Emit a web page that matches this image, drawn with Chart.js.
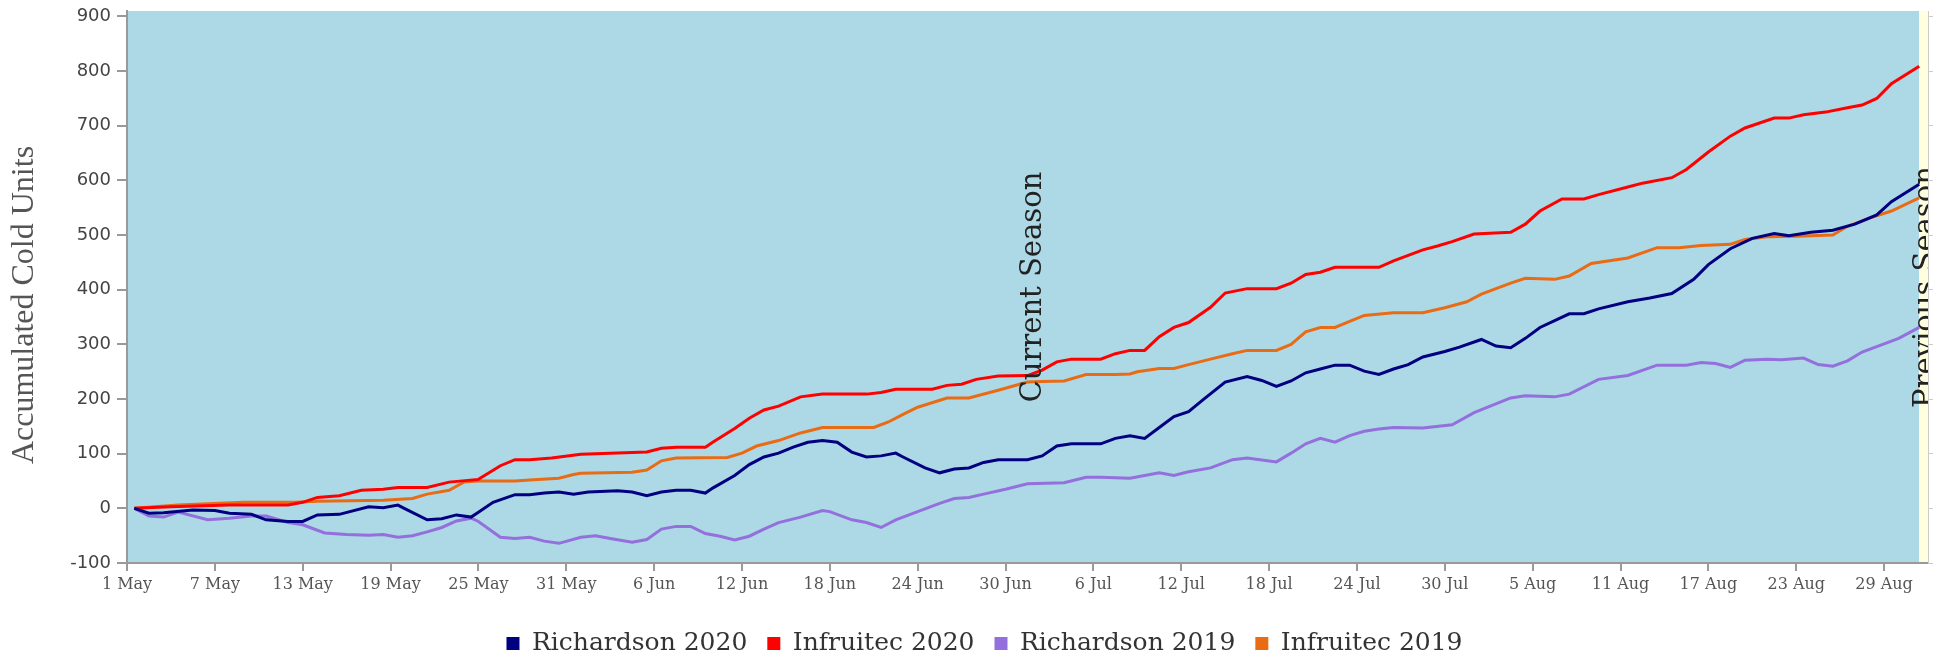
<!DOCTYPE html>
<html>
<head>
<meta charset="utf-8">
<title>Accumulated Cold Units</title>
<script src="https://cdn.jsdelivr.net/npm/chart.js@4.4.1/dist/chart.umd.min.js"></script>
<style>
    html, body { margin: 0; padding: 0; background: #fff; }
</style>
</head>
<body>
<canvas id="myChart" width="1941" height="661"></canvas>
<script>
// x values are days counted from 1 May
const tickDays = [0, 6, 12, 18, 24, 30, 36, 42, 48, 54, 60, 66, 72, 78, 84, 90, 96, 102, 108, 114, 120];
const tickLabels = ["1 May", "7 May", "13 May", "19 May", "25 May", "31 May", "6 Jun", "12 Jun", "18 Jun", "24 Jun",
    "30 Jun", "6 Jul", "12 Jul", "18 Jul", "24 Jul", "30 Jul", "5 Aug", "11 Aug", "17 Aug", "23 Aug", "29 Aug"];
const yTicks = [-100, 0, 100, 200, 300, 400, 500, 600, 700, 800, 900];

const seasonSplit = 122.4;   // current season ends, previous season starts
const lastDay = 123;

const richardson2020Days = [0.5, 1.5, 2.5, 4.5, 6, 7, 8.5, 9.5, 11, 12, 13, 14.5, 16.5, 17.5, 18.5, 19, 20.5, 21.5, 22.5, 23.5,
    24, 25, 26.5, 27.5, 28.5, 29.5, 30.5, 31.5, 33.5, 34.5, 35.5, 36.5, 37.5, 38.5, 39.5, 40, 41.5, 42.5, 43.5, 44.5,
    45.5, 46.5, 47.5, 48.5, 49.5, 50.5, 51.5, 52.5, 53, 54.5, 55.5, 56.5, 57.5, 58.5, 59.5, 61.5, 62.5, 63.5, 64.5, 66.5,
    67.5, 68.5, 69.5, 70.5, 71.5, 72.5, 73.5, 75, 76.5, 77.5, 78.5, 79.5, 80.5, 81.5, 82.5, 83.5, 84.5, 85.5, 86.5, 87.5,
    88.5, 90, 91, 92.5, 93.5, 94.5, 95.5, 96.5, 98.5, 99.5, 100.5, 102.5, 104, 105.5, 107, 108, 109.5, 111, 112.5, 113.5,
    115, 116.5, 118, 119.5, 120.5, 122.4];
const richardson2020 = [0, -9, -8, -3, -4, -9, -11, -21, -24, -24, -12, -11, 3, 1, 6, -1, -21, -19, -12, -16,
    -7, 11, 25, 25, 28, 30, 26, 30, 32, 30, 23, 30, 33, 33, 28, 37, 60, 80, 94, 101,
    112, 121, 124, 121, 103, 94, 96, 101, 94, 74, 65, 72, 74, 84, 89, 89, 96, 114, 118, 118,
    128, 133, 128, 148, 168, 177, 199, 231, 241, 234, 223, 233, 248, 255, 262, 262, 251, 245, 255, 263,
    277, 287, 295, 309, 297, 294, 311, 331, 356, 356, 365, 378, 385, 393, 419, 446, 475, 494, 503, 499,
    505, 509, 520, 537, 561, 593];

const infruitec2020Days = [0.5, 3, 7, 11, 12, 13, 14.5, 16, 17.5, 18.5, 20.5, 22, 24, 25.5, 26.5, 27.5, 29, 31, 33, 35.5,
    36.5, 37.5, 39.5, 40, 41.5, 42.5, 43.5, 44.5, 46, 47.5, 50.5, 51.5, 52.5, 55, 56, 57, 58, 59.5, 61.5, 62.5,
    63.5, 64.5, 66.5, 67.5, 68.5, 69.5, 70.5, 71.5, 72.5, 74, 75, 76.5, 78.5, 79.5, 80.5, 81.5, 82.5, 85.5, 86.5, 87.5,
    88.5, 89.5, 90.5, 92, 94.5, 95.5, 96.5, 98, 99.5, 100.5, 102.5, 103.5, 105.5, 106.5, 108, 109.5, 110.5, 112.5, 113.5, 114.5,
    116, 117.5, 118.5, 119.5, 120.5, 122.4];
const infruitec2020 = [0, 3, 6, 6, 11, 20, 23, 33, 35, 38, 38, 48, 53, 78, 89, 89, 92, 99, 101, 103,
    110, 112, 112, 121, 146, 165, 180, 187, 204, 209, 209, 212, 218, 218, 225, 227, 236, 242, 243, 253,
    268, 273, 273, 283, 289, 289, 314, 331, 340, 368, 394, 402, 402, 412, 428, 432, 441, 441, 453, 463,
    473, 480, 488, 502, 505, 520, 544, 566, 566, 574, 588, 595, 605, 620, 652, 681, 696, 714, 714, 720,
    725, 733, 738, 750, 777, 809];

const richardson2019Days = [0.5, 1.5, 2.5, 3.5, 5.5, 7, 8.5, 9.5, 11, 12, 13.5, 15, 16.5, 17.5, 18.5, 19.5, 20.5, 21.5, 22.5, 23.5,
    24, 25.5, 26.5, 27.5, 28.5, 29.5, 31, 32, 33, 34.5, 35.5, 36.5, 37.5, 38.5, 39.5, 40.5, 41.5, 42.5, 43.5, 44.5,
    46, 47.5, 48, 49.5, 50.5, 51.5, 52.5, 54.5, 55.5, 56.5, 57.5, 58.5, 60, 61.5, 64, 65.5, 66.5, 68.5, 70.5, 71.5,
    72.5, 74, 75.5, 76.5, 78.5, 79.5, 80.5, 81.5, 82.5, 83.5, 84.5, 85.5, 86.5, 88.5, 90.5, 92, 94.5, 95.5, 97.5, 98.5,
    100.5, 102.5, 104.5, 106.5, 107.5, 108.5, 109.5, 110.5, 112, 113, 114.5, 115.5, 116.5, 117.5, 118.5, 120, 121, 122.4];
const richardson2019 = [0, -14, -16, -7, -21, -18, -14, -14, -26, -30, -45, -48, -49, -48, -53, -50, -43, -35, -23, -18,
    -24, -53, -55, -53, -60, -64, -53, -50, -55, -62, -57, -38, -33, -33, -46, -51, -58, -51, -38, -26,
    -16, -4, -6, -21, -26, -35, -21, -1, 9, 18, 20, 26, 35, 45, 47, 57, 57, 55, 65, 60,
    67, 74, 89, 92, 85, 101, 118, 128, 121, 133, 141, 145, 148, 147, 153, 175, 202, 206, 204, 209,
    236, 243, 262, 262, 267, 265, 258, 271, 273, 272, 275, 263, 260, 270, 286, 301, 311, 331];

const infruitec2019Days = [0.5, 3.5, 8, 11.5, 13, 17.5, 19.5, 20.5, 22, 23, 24, 26.5, 27.5, 29.5, 30.5, 31, 34.5, 35.5, 36.5, 37.5,
    41, 42, 43, 44.5, 46, 47.5, 51, 52, 53, 54, 56, 57.5, 59.5, 61.5, 62.5, 64, 65.5, 67.5, 68.5, 69,
    70.5, 71.5, 72.5, 74, 75.5, 76.5, 78.5, 79.5, 80.5, 81.5, 82.5, 83.5, 84.5, 86.5, 88.5, 90, 91.5, 92.5, 94.5, 95.5,
    97.5, 98.5, 100, 102.5, 104.5, 106, 107.5, 109.5, 110.5, 112, 114, 116.5, 117.5, 119, 120.5, 122.4];
const infruitec2019 = [0, 6, 11, 11, 13, 15, 18, 26, 33, 48, 50, 50, 52, 55, 62, 64, 66, 70, 87, 92,
    93, 101, 114, 124, 138, 148, 148, 158, 172, 185, 202, 202, 216, 231, 232, 233, 245, 245, 246, 250,
    256, 256, 263, 273, 283, 289, 289, 300, 323, 331, 331, 342, 353, 358, 358, 367, 378, 392, 412, 421,
    419, 425, 448, 458, 477, 477, 481, 483, 492, 497, 498, 500, 516, 531, 544, 568];

function toPoints(days, values) {
    return days.map((d, i) => ({ x: d, y: values[i] }));
}

function lineDataset(label, days, values, color) {
    return {
        label: label,
        data: toPoints(days, values),
        borderColor: color,
        backgroundColor: color,
        borderWidth: 3,
        pointRadius: 0,
        tension: 0,
        yAxisID: 'y'
    };
}

// coloured season bands behind the lines, their rotated labels and the y axis title
const seasonBands = {
    id: 'seasonBands',
    afterLayout(chart) {
        // nudge the legend a little right, like the original
        chart.legend.left += 14;
        chart.legend.right += 14;
    },
    beforeDraw(chart) {
        const { ctx, chartArea: a, scales: { x } } = chart;
        const split = x.getPixelForValue(seasonSplit);
        ctx.save();
        ctx.fillStyle = '#add8e6';
        ctx.fillRect(a.left, a.top, split - a.left, a.bottom - a.top);
        ctx.fillStyle = '#ffffe0';
        ctx.fillRect(split, a.top, a.right - split, a.bottom - a.top);

        // axis title, sits a bit below the middle of the plot
        ctx.font = '32px "Liberation Serif"';
        ctx.fillStyle = '#555';
        ctx.textAlign = 'center';
        ctx.textBaseline = 'middle';
        ctx.translate(25, (a.top + a.bottom) / 2 + 18);
        ctx.rotate(-Math.PI / 2);
        ctx.fillText('Accumulated Cold Units', 0, 0);
        ctx.restore();
    },
    afterDatasetsDraw(chart) {
        const { ctx, chartArea: a, scales: { x } } = chart;
        const split = x.getPixelForValue(seasonSplit);
        const midY = (a.top + a.bottom) / 2;
        ctx.save();
        ctx.beginPath();
        ctx.rect(a.left, a.top, a.right - a.left, a.bottom - a.top);
        ctx.clip();
        ctx.font = '29px "DejaVu Serif"';
        ctx.fillStyle = '#222';
        ctx.textAlign = 'center';
        ctx.textBaseline = 'alphabetic';
        [['Current Season', (a.left + split) / 2 + 18], ['Previous Season', (split + a.right) / 2 + 10]].forEach(([text, bx]) => {
            ctx.save();
            ctx.translate(bx, midY);
            ctx.rotate(-Math.PI / 2);
            ctx.fillText(text, 0, 0);
            ctx.restore();
        });
        ctx.restore();
    }
};

new Chart(document.getElementById('myChart'), {
    type: 'line',
    data: {
        datasets: [
            lineDataset('Richardson 2020', richardson2020Days, richardson2020, '#000080'),
            lineDataset('Infruitec 2020', infruitec2020Days, infruitec2020, '#ff0000'),
            lineDataset('Richardson 2019', richardson2019Days, richardson2019, '#9370db'),
            lineDataset('Infruitec 2019', infruitec2019Days, infruitec2019, '#e96b14')
        ]
    },
    options: {
        responsive: false,
        animation: false,
        layout: { padding: { top: 11, bottom: -5, left: 0, right: 0 } },
        scales: {
            x: {
                type: 'linear',
                min: 0,
                max: lastDay,
                afterBuildTicks: (axis) => { axis.ticks = tickDays.map(v => ({ value: v })); },
                afterFit: (axis) => { axis.height = 48; },
                ticks: {
                    autoSkip: false,
                    maxRotation: 0,
                    padding: 4,
                    color: '#555',
                    font: { family: 'DejaVu Serif', size: 16 },
                    callback: (value, index) => tickLabels[index]
                },
                grid: { drawOnChartArea: false, tickLength: 8, color: '#999', lineWidth: 2 },
                border: { display: true, color: '#999', width: 2 }
            },
            y: {
                min: -100,
                max: 910,
                afterBuildTicks: (axis) => { axis.ticks = yTicks.map(v => ({ value: v })); },
                afterFit: (axis) => {
                    axis.width = 127;
                    axis.paddingTop = 0;
                    axis.paddingBottom = 0;
                },
                ticks: {
                    padding: 6,
                    color: '#444',
                    font: { family: 'DejaVu Sans', size: 18 }
                },
                grid: { drawOnChartArea: false, tickLength: 10, color: '#999', lineWidth: 2 },
                border: { display: true, color: '#999', width: 2 }
            },
            y2: {
                position: 'right',
                min: -100,
                max: 910,
                afterBuildTicks: (axis) => { axis.ticks = yTicks.map(v => ({ value: v })); },
                afterFit: (axis) => {
                    axis.width = 13;
                    axis.paddingTop = 0;
                    axis.paddingBottom = 0;
                },
                ticks: { display: false },
                grid: { drawOnChartArea: false, tickLength: 5, color: '#ccc' },
                border: { display: true, color: '#ccc', width: 1 }
            }
        },
        plugins: {
            tooltip: { enabled: false },
            legend: {
                display: true,
                position: 'bottom',
                labels: {
                    color: '#333',
                    boxWidth: 13,
                    boxHeight: 13,
                    padding: 20,
                    font: { family: 'DejaVu Serif', size: 25 },
                    generateLabels: function (chart) {
                        return Chart.defaults.plugins.legend.labels.generateLabels(chart).map(item => {
                            item.lineWidth = 0;
                            return item;
                        });
                    }
                }
            }
        }
    },
    plugins: [seasonBands]
});
</script>
</body>
</html>
